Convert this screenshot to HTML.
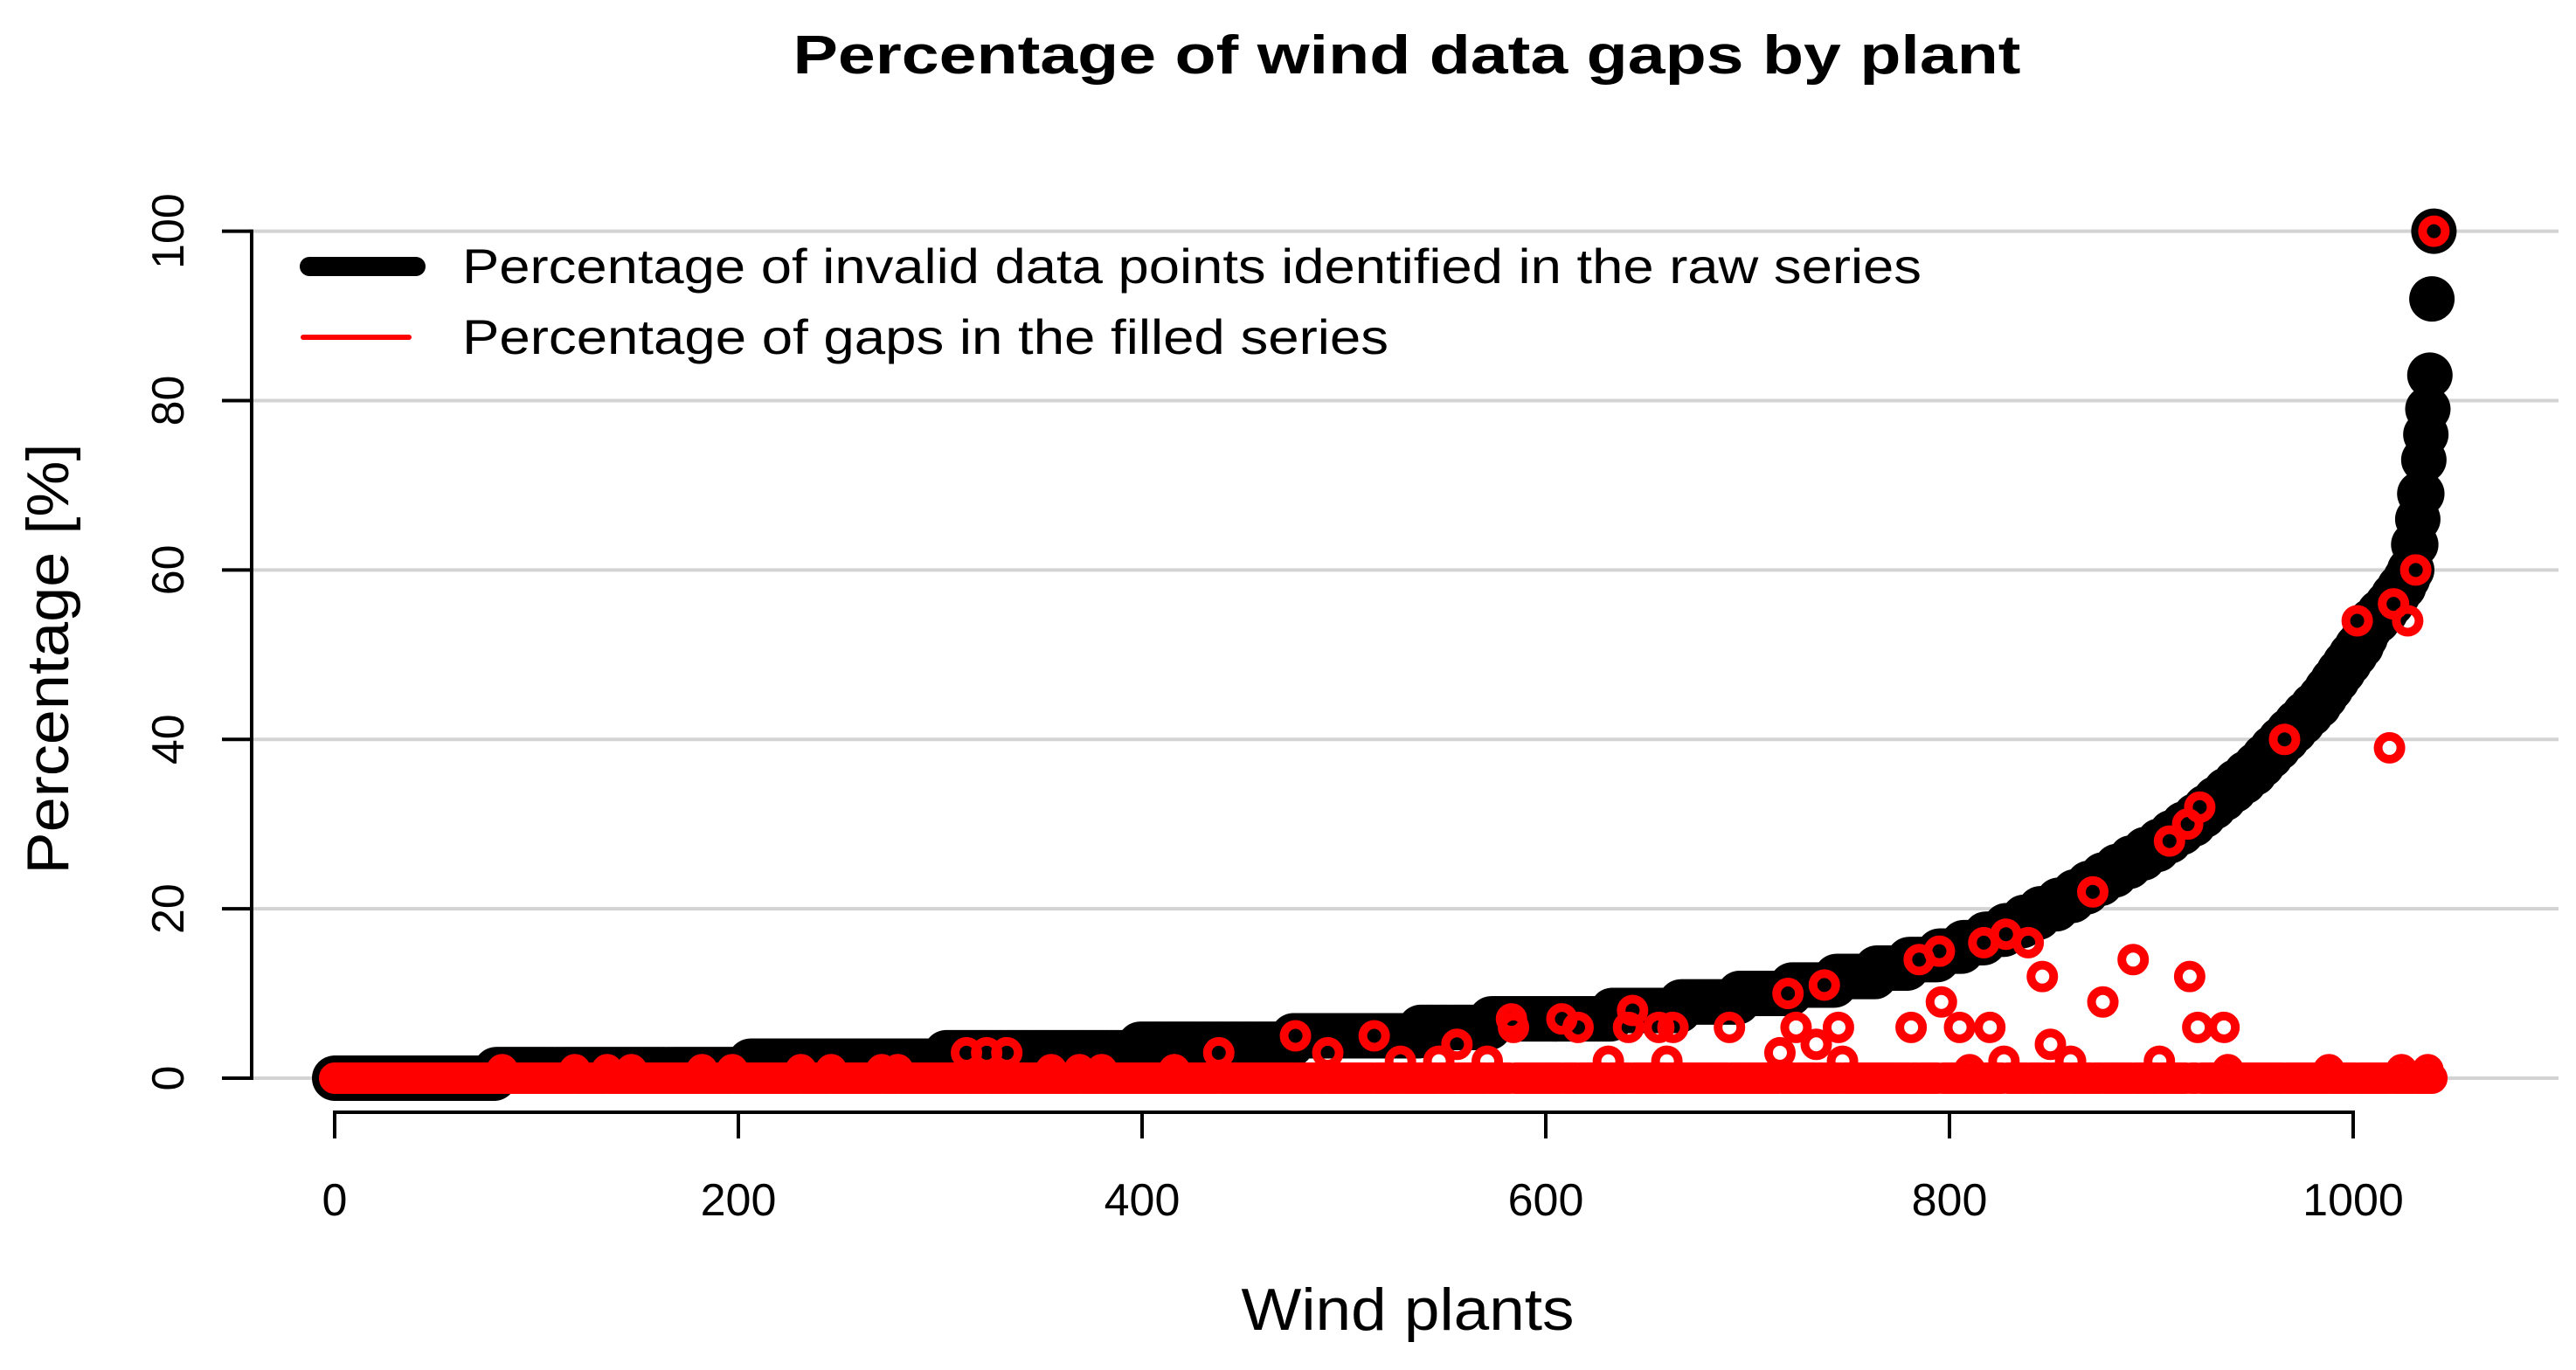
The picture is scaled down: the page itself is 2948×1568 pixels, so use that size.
<!DOCTYPE html>
<html><head><meta charset="utf-8"><style>
html,body{margin:0;padding:0;background:#fff;}
svg{display:block;}
text{font-family:"Liberation Sans",Arial,sans-serif;}
</style></head><body>
<svg id="chart" xmlns="http://www.w3.org/2000/svg" width="2948" height="1568" viewBox="0 0 2948 1568">
<rect width="2948" height="1568" fill="#fff"/>
<text x="1610" y="84" text-anchor="middle" font-size="62" font-weight="bold" textLength="1405" lengthAdjust="spacingAndGlyphs">Percentage of wind data gaps by plant</text>
<g id="grid"></g>
<g id="yaxis"></g>
<g id="xaxis"></g>
<g id="black"></g>
<g id="red"></g>
<text x="1611" y="1522" text-anchor="middle" font-size="68" textLength="381" lengthAdjust="spacingAndGlyphs">Wind plants</text>
<text transform="translate(78,754) rotate(-90)" text-anchor="middle" font-size="68" textLength="493" lengthAdjust="spacingAndGlyphs">Percentage [%]</text>
<g>
<line x1="354" y1="305" x2="476" y2="305" stroke="#000" stroke-width="22" stroke-linecap="round"/>
<text x="529" y="324" font-size="56" textLength="1670" lengthAdjust="spacingAndGlyphs">Percentage of invalid data points identified in the raw series</text>
<line x1="347" y1="386" x2="468" y2="386" stroke="#ff0000" stroke-width="6" stroke-linecap="round"/>
<text x="529" y="405" font-size="56" textLength="1060" lengthAdjust="spacingAndGlyphs">Percentage of gaps in the filled series</text>
</g>
</svg>
<script>
const yTicks=[0,20,40,60,80,100];
const xTicks=[0,200,400,600,800,1000];
const rawRuns=[[0,80],[1,126],[2,97],[3,96],[4,76],[5,63],[6,35],[7,60],[8,34],[9,29],[10,26],[11,22],[12,20],[13,16],[14,15],[15,12],[16,11],[17,10],[18,9],[19,8],[20,9],[21,8],[22,7],[23,7],[24,7],[25,7],[26,7],[27,7],[28,6],[29,6],[30,6],[31,5],[32,5],[33,5],[34,5],[35,5],[36,5],[37,4],[38,4],[39,4],[40,4],[41,4],[42,4],[43,4],[44,4],[45,3],[46,3],[47,3],[48,3],[49,3],[50,3],[51,3],[52,2],[53,2],[54,4],[55,4],[56,3],[57,3],[58,3],[59,2],[60,2],[63,2],[66,1],[69,2],[73,1],[76,1],[79,1],[83,1],[92,1],[100,1]];
const redIdx=[1040,1031,1020,1002,1027,966,1018,924,918,909,871,828,839,817,795,785,846,891,919,796,876,805,820,923,936,850,860,827,904,810,938,988,1024,1037,476,515,556,583,584,608,616,643,641,656,663,691,720,738,724,745,781,528,547,571,631,660,716,734,747,492,83,119,135,147,182,197,231,246,271,279,313,323,333,355,369,380,416,438];
const redVal=[100,60,56,54,54,40,39,32,30,28,22,17,16,16,15,14,12,14,12,9,9,6,6,6,6,4,2,2,2,1,1,1,1,1,5,5,4,7,6,7,6,8,6,6,6,6,10,11,6,6,6,2,2,2,2,2,3,4,2,3,1,1,1,1,1,1,1,1,1,1,3,3,3,1,1,1,1,3];
const NS='http://www.w3.org/2000/svg';
const X=v=>383+v*2.31, Y=v=>1234-v*9.694;
function mk(tag,parent,attrs){const e=document.createElementNS(NS,tag);for(const k in attrs)e.setAttribute(k,attrs[k]);parent.appendChild(e);return e;}
const grid=document.getElementById('grid'),ya=document.getElementById('yaxis'),xa=document.getElementById('xaxis');
yTicks.forEach(t=>{
 const g=mk('line',grid,{x1:288,x2:2928,y1:Y(t),y2:Y(t),stroke:'#d3d3d3','stroke-width':4});
 
 
 const tk=mk('line',ya,{x1:254,x2:288,y1:Y(t),y2:Y(t),stroke:'#000','stroke-width':4});
 
 
 const lb=mk('text',ya,{transform:`translate(210,${Y(t)}) rotate(-90)`,'text-anchor':'middle','font-size':52});
 lb.textContent=t;
 
 
});
const yl=mk('line',ya,{x1:288,x2:288,y1:Y(0)+2,y2:Y(100)-2,stroke:'#000','stroke-width':4});


const xl=mk('line',xa,{x1:X(0)-2,x2:X(1000)+2,y1:1273,y2:1273,stroke:'#000','stroke-width':4});


xTicks.forEach(t=>{
 const tk=mk('line',xa,{x1:X(t),x2:X(t),y1:1273,y2:1303,stroke:'#000','stroke-width':4});
 
 
 const lb=mk('text',xa,{x:X(t),y:1391,'text-anchor':'middle','font-size':52});
 lb.textContent=t;
 
 
});
const raw=[];rawRuns.forEach(([v,n])=>{for(let i=0;i<n;i++)raw.push(v);});
const bg=document.getElementById('black');
raw.forEach((v,i)=>{
 const c=mk('circle',bg,{cx:X(i),cy:Y(v),r:26,fill:'#000'});
 
 
});
const red=new Array(raw.length).fill(0);
redIdx.forEach((ix,k)=>{if(ix<red.length)red[ix]=redVal[k];});
const rg=document.getElementById('red');
red.forEach((v,i)=>{
 const c=mk('circle',rg,{cx:X(i),cy:Y(v),r:13,fill:'none',stroke:'#ff0000','stroke-width':10});
 
 
});
</script>
</body></html>
